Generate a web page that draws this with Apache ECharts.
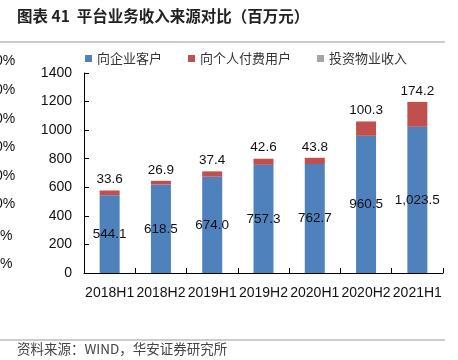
<!DOCTYPE html>
<html><head><meta charset="utf-8">
<script src="https://cdn.jsdelivr.net/npm/echarts@6/dist/echarts.min.js"></script>
<style>html,body{margin:0;padding:0;background:#fff}#c{width:458px;height:360px}</style>
</head><body><div id="c"></div>
<script>
var categories = ['2018H1','2018H2','2019H1','2019H2','2020H1','2020H2','2021H1'];
var seriesNames = ['向企业客户','向个人付费用户','投资物业收入'];
var enterprise = [544.1, 618.5, 674.0, 757.3, 762.7, 960.5, 1023.5];
var personal = [33.6, 26.9, 37.4, 42.6, 43.8, 100.3, 174.2];
var property = [0, 0, 0, 0, 0, 0, 0];
var yTicks = [0, 200, 400, 600, 800, 1000, 1200, 1400];

var font = '"Liberation Sans", Arial, sans-serif';
var cjk = '"Noto Sans CJK SC", sans-serif';
function fmt(v){ return v.toLocaleString('en-US',{minimumFractionDigits:1,maximumFractionDigits:1}); }

var chart = echarts.init(document.getElementById('c'));
var pctY = [62, 91, 120, 148, 177, 205, 237, 265];
var graphics = [
  {type:'text', left:17, top:8, style:{text:'图表 41  平台业务收入来源对比（百万元）', font:'bold 15.5px '+cjk, fill:'#222'}},
  {type:'line', shape:{x1:0,y1:42,x2:445,y2:42}, style:{stroke:'#999', lineWidth:1.2}},
  {type:'line', shape:{x1:0,y1:340,x2:445,y2:340}, style:{stroke:'#999', lineWidth:1}},
  {type:'text', left:17, top:342, style:{text:'资料来源：WIND，华安证券研究所', font:'13.5px '+cjk, fill:'#444'}}
];
pctY.forEach(function(y,i){
  graphics.push({type:'text', x: i<6 ? -5 : 0, y:y-8, style:{text: i<6 ? '0%' : '%', font:'14px '+font, fill:'#111'}});
});

chart.setOption({
  animation:false,
  graphic: graphics,
  legend:{
    left:80, top:47, itemWidth:7, itemHeight:7, itemGap:26, icon:'rect',
    textStyle:{fontFamily:cjk, fontSize:13, color:'#333'},
    data: seriesNames
  },
  grid:{left:84, right:15, top:73, bottom:87},
  xAxis:{
    type:'category', data:categories,
    axisLine:{lineStyle:{color:'#000', width:1}},
    axisTick:{show:true, inside:true, length:5, lineStyle:{color:'#000'}},
    axisLabel:{color:'#111', fontFamily:font, fontSize:14, margin:13, interval:0}
  },
  yAxis:{
    type:'value', min:0, max:1400, interval:200,
    axisLine:{show:true, lineStyle:{color:'#000'}},
    axisTick:{show:true, inside:true, length:5, lineStyle:{color:'#000'}},
    splitLine:{show:false},
    axisLabel:{color:'#111', fontFamily:font, fontSize:14, margin:12,
               formatter:function(v){return String(v);}}
  },
  series:[
    {name:seriesNames[0], type:'bar', stack:'a', data:enterprise, barWidth:20,
     itemStyle:{color:'#4F81BD'},
     label:{show:true, position:'inside', color:'#111', fontFamily:font, fontSize:13.5,
            formatter:function(p){return fmt(p.value);}}},
    {name:seriesNames[1], type:'bar', stack:'a', data:personal, barWidth:20,
     itemStyle:{color:'#C0504D'},
     label:{show:true, position:'top', distance:4, color:'#111', fontFamily:font, fontSize:13.5,
            formatter:function(p){return fmt(p.value);}}},
    {name:seriesNames[2], type:'bar', stack:'a', data:property, barWidth:20,
     itemStyle:{color:'#A5A5A5'}}
  ]
});
</script></body></html>
